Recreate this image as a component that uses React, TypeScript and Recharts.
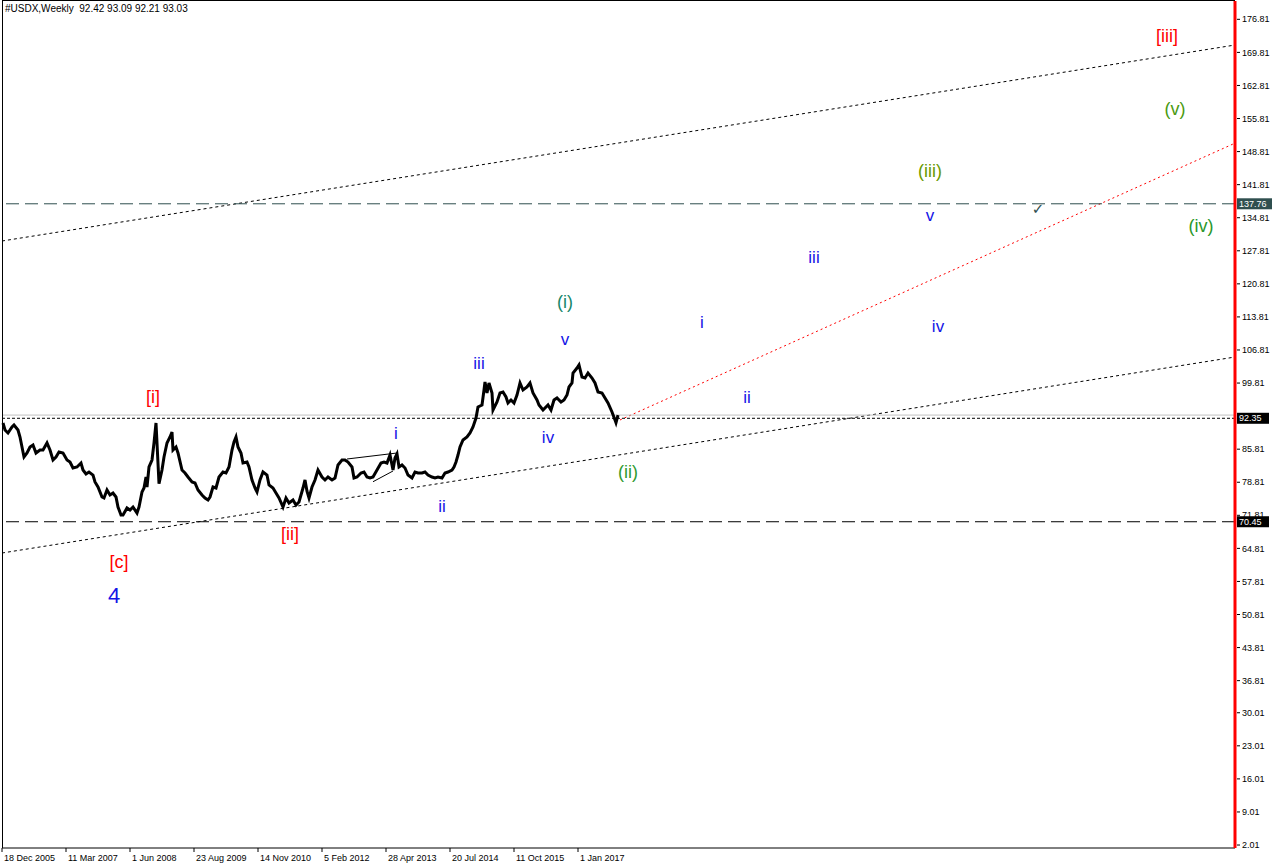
import React from "react";
import { ComposedChart, Line, XAxis, YAxis, ReferenceLine, ReferenceDot } from "recharts";

// week index counted from 18 Dec 2005 (1 bar = 1 px in the original)
const weeks = [
  1, 3, 6, 10, 12, 16, 18, 20, 22, 25, 28, 31, 34, 38, 41, 45, 48, 51, 54, 57, 61, 65, 68, 71, 75, 79, 81, 84, 87, 91,
  93, 96, 100, 102, 105, 108, 111, 114, 116, 119, 121, 125, 128, 131, 135, 137, 140, 142, 144, 145, 147, 150, 152, 154,
  155, 157, 160, 162, 165, 168, 170, 171, 174, 176, 180, 183, 186, 190, 193, 196, 200, 203, 206, 208, 211, 214, 217,
  221, 224, 227, 230, 232, 234, 236, 239, 241, 245, 247, 250, 253, 255, 258, 261, 265, 267, 271, 274, 277, 281, 284,
  287, 291, 294, 297, 301, 303, 305, 307, 310, 313, 316, 320, 323, 326, 330, 333, 336, 340, 343, 346, 350, 352, 355,
  359, 362, 365, 368, 371, 375, 379, 382, 385, 388, 391, 393, 395, 397, 400, 403, 406, 410, 413, 416, 420, 423, 426,
  430, 433, 436, 440, 443, 446, 450, 452, 454, 456, 458, 461, 465, 468, 471, 474, 476, 480, 482, 483, 485, 487, 490,
  491, 495, 498, 501, 504, 506, 509, 512, 515, 518, 521, 525, 528, 531, 535, 537, 541, 543, 546, 549, 552, 555, 559,
  562, 565, 567, 570, 571, 575, 577, 580, 583, 586, 590, 593, 596, 600, 603, 606, 610, 613, 614, 616,
];

const closes = [
  91.35, 89.87, 89.24, 90.51, 90.93, 89.87, 88.39, 86.27, 84.15, 85.0, 86.27, 86.69, 85.0, 85.63, 85.63, 87.12, 85.63,
  83.52, 84.15, 85.21, 85.0, 83.52, 83.09, 81.82, 82.04, 82.88, 81.4, 80.56, 80.98, 80.34, 78.86, 77.8, 75.69, 75.48,
  77.17, 76.11, 76.53, 75.69, 73.57, 71.88, 71.88, 73.36, 72.94, 73.57, 72.3, 73.57, 76.74, 77.59, 79.92, 77.8, 82.04,
  83.52, 87.12, 91.35, 87.12, 78.5, 81.4, 84.15, 87.12, 88.39, 89.45, 85.63, 86.27, 85.0, 81.4, 80.77, 79.92, 78.86,
  78.65, 77.17, 76.11, 75.48, 75.05, 75.69, 77.8, 77.59, 79.92, 80.98, 80.77, 82.04, 85.63, 87.33, 88.39, 86.27, 85.0,
  82.88, 83.09, 82.04, 79.29, 77.59, 76.74, 79.29, 80.98, 80.34, 78.23, 77.59, 76.53, 75.48, 73.57, 75.48, 74.42, 75.05,
  74.0, 74.63, 77.59, 79.29, 76.9, 75.48, 77.8, 79.29, 81.4, 79.92, 79.29, 79.92, 79.29, 79.71, 82.46, 83.52, 83.52,
  83.09, 82.04, 79.71, 79.92, 80.77, 80.98, 79.92, 79.71, 79.92, 81.4, 82.88, 83.09, 82.88, 84.58, 81.4, 83.94, 84.79,
  82.04, 82.46, 81.82, 80.34, 79.71, 80.98, 80.77, 80.77, 80.98, 80.34, 79.92, 79.71, 79.92, 79.71, 80.77, 80.98, 81.4,
  82.04, 83.09, 84.58, 86.27, 87.75, 88.39, 89.24, 90.51, 92.41, 94.74, 95.16, 98.34, 100.03, 97.7, 99.82, 97.7, 94.1,
  95.8, 97.7, 97.91, 96.86, 95.59, 96.22, 95.59, 97.28, 99.82, 98.34, 98.97, 99.82, 97.7, 96.22, 95.16, 94.1, 94.53,
  95.16, 94.1, 96.22, 96.64, 95.8, 96.22, 97.28, 98.97, 99.82, 101.93, 102.99, 103.63, 101.09, 100.88, 101.93, 100.88,
  99.82, 97.91, 97.7, 96.64, 95.59, 93.68, 91.99, 91.4, 93.03,
];

const dateTicks = [0, 64, 128, 192, 256, 320, 384, 448, 512, 576];
const dateLabels = [
  "18 Dec 2005", "11 Mar 2007", "1 Jun 2008", "23 Aug 2009", "14 Nov 2010",
  "5 Feb 2012", "28 Apr 2013", "20 Jul 2014", "11 Oct 2015", "1 Jan 2017",
];

const priceTicks = [
  2.01, 9.01, 16.01, 23.01, 30.01, 36.81, 43.81, 50.81, 57.81, 64.81, 71.81, 78.81, 85.81, 99.81, 106.81, 113.81,
  120.81, 127.81, 134.81, 141.81, 148.81, 155.81, 162.81, 169.81, 176.81,
];

// wave count labels: text, week, price
const waveText = ["[i]", "[ii]", "[c]", "4", "i", "ii", "iii", "iv", "v", "(i)", "(ii)", "i", "ii", "iii", "iv", "v", "(iii)", "(iv)", "(v)", "[iii]"];
const waveWeek = [151, 288, 117, 112, 394, 440, 477, 546, 563, 563, 626, 700, 745, 812, 936, 928, 928, 1199, 1173, 1165];
const wavePrice = [96.85, 67.85, 61.92, 54.94, 89.24, 73.78, 104.05, 88.39, 109.13, 116.97, 80.98, 112.73, 96.85, 126.49, 111.89, 135.38, 144.7, 133.06, 157.83, 173.27];

const FONT = "'Liberation Sans', Arial, sans-serif";
const greens: Record<string, string> = {
  "(i)": "#16876a",
  "(ii)": "#2f9a2f",
  "(iii)": "#6a9a00",
  "(iv)": "#2a972a",
  "(v)": "#4a9a10",
};

function waveColor(t: string) {
  if (t.startsWith("[")) return "#ff0000";
  if (t.startsWith("(")) return greens[t] || "#2f9a2f";
  return "#1414e6";
}

const priceData = weeks.map((w, i) => ({ w, c: closes[i] }));

const XTick = (props: any) => {
  const { x, payload } = props;
  const idx = dateTicks.indexOf(payload.value);
  return (
    <g>
      <line x1={x} y1={848} x2={x} y2={852} stroke="#000" />
      <text x={x + 2} y={861} fontSize={9} fontFamily={FONT} fill="#000">
        {dateLabels[idx]}
      </text>
    </g>
  );
};

const YTick = (props: any) => {
  const { y, payload } = props;
  return (
    <g>
      <line x1={1237} y1={y} x2={1240} y2={y} stroke="#000" />
      <text x={1242} y={y} dy="0.35em" fontSize={9} fontFamily={FONT} fill="#000">
        {payload.value.toFixed(2)}
      </text>
    </g>
  );
};

const priceBox = (text: string, bg: string, w: number) => (props: any) => {
  const vb = props.viewBox || {};
  const y = vb.y ?? 0;
  const x = (vb.x ?? 0) + (vb.width ?? 0);
  return (
    <g>
      <rect x={x + 2} y={y - 5.5} width={w} height={11} fill={bg} />
      <text x={x + 4} y={y} dy="0.35em" fontSize={9} fontFamily={FONT} fill="#fff">
        {text}
      </text>
    </g>
  );
};

export default function App() {
  return (
    <div style={{ position: "absolute", left: 0, top: 0, width: 1276, height: 868, background: "#fff" }}>
      <ComposedChart width={1276} height={868} data={priceData} margin={{ top: 1, right: 0, bottom: 0, left: 2 }}>
        <XAxis
          type="number"
          dataKey="w"
          domain={[0, 1233]}
          ticks={dateTicks}
          interval={0}
          height={20}
          axisLine={{ stroke: "#000" }}
          tickLine={false}
          tick={<XTick />}
        />
        <YAxis
          type="number"
          orientation="right"
          domain={[1.38, 180.69]}
          ticks={priceTicks}
          interval={0}
          width={41}
          axisLine={{ stroke: "#ff0000", strokeWidth: 3 }}
          tickLine={false}
          tick={<YTick />}
        />

        {/* channel / trend lines */}
        <ReferenceLine segment={[{ x: 0, y: 129.88 }, { x: 1233, y: 171.37 }]} stroke="#000" strokeDasharray="3 3" />
        <ReferenceLine segment={[{ x: 0, y: 63.83 }, { x: 1233, y: 105.32 }]} stroke="#000" strokeDasharray="3 3" />
        <ReferenceLine segment={[{ x: 618, y: 91.99 }, { x: 1233, y: 150.6 }]} stroke="#ff0000" strokeDasharray="2 3" />
        <ReferenceLine segment={[{ x: 345, y: 83.73 }, { x: 395, y: 85.0 }]} stroke="#000" />
        <ReferenceLine segment={[{ x: 371, y: 78.92 }, { x: 391, y: 81.19 }]} stroke="#000" />

        {/* horizontal levels */}
        <ReferenceLine y={137.76} stroke="#2f4f4f" strokeDasharray="13 6" label={priceBox("137.76", "#2f4f4f", 35)} />
        <ReferenceLine y={70.45} stroke="#000" strokeDasharray="13 6" label={priceBox("70.45", "#000", 32)} />
        <ReferenceLine y={93.03} stroke="#c0c0c0" />
        <ReferenceLine y={92.35} stroke="#000" strokeDasharray="3 2" label={priceBox("92.35", "#000", 32)} />

        <Line
          type="linear"
          dataKey="c"
          stroke="#000"
          strokeWidth={3}
          strokeLinejoin="miter"
          dot={false}
          isAnimationActive={false}
        />

        {waveText.map((t, i) => (
          <ReferenceDot
            key={`w-${i}`}
            x={waveWeek[i]}
            y={wavePrice[i]}
            r={1}
            fill="none"
            stroke="none"
            label={{
              value: t,
              position: "center",
              fill: waveColor(t),
              fontSize: t === "4" ? 22 : t.startsWith("[") || t.startsWith("(") ? 18 : 17,
              fontFamily: FONT,
            }}
          />
        ))}
        <ReferenceDot
          x={1036}
          y={136.65}
          r={1}
          fill="none"
          stroke="none"
          label={{ value: "✓", position: "center", fill: "#2f4f4f", fontSize: 15, fontFamily: "'DejaVu Sans', sans-serif" }}
        />
      </ComposedChart>
      <div
        style={{
          position: "absolute",
          left: 2,
          top: 0,
          width: 1233,
          height: 848,
          borderLeft: "1px solid #000",
          borderTop: "1px solid #000",
          boxSizing: "border-box",
          pointerEvents: "none",
        }}
      />
      <div
        style={{
          position: "absolute",
          left: 5,
          top: 3,
          fontFamily: FONT,
          fontSize: 10,
          color: "#000",
          whiteSpace: "pre",
        }}
      >
        {"#USDX,Weekly  92.42 93.09 92.21 93.03"}
      </div>
    </div>
  );
}
